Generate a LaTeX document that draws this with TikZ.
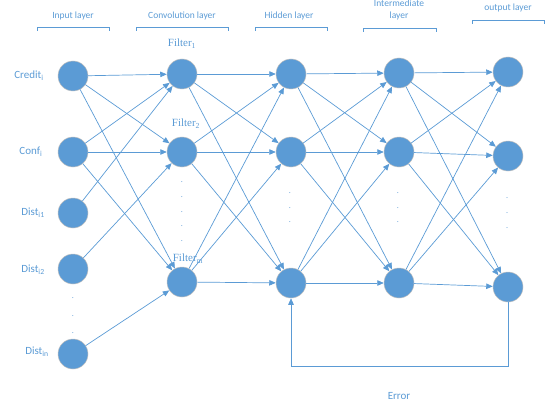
\documentclass[tikz,border=0pt]{standalone}
\usepackage{fontspec}
\setmainfont{Carlito}
\newfontfamily\serifface{Liberation Serif}
\usetikzlibrary{arrows.meta}
\definecolor{nblue}{RGB}{91,155,213}
\definecolor{tblue}{RGB}{91,155,213}
\tikzset{
  neuron/.style={circle,minimum size=30pt,inner sep=0pt,fill=nblue,draw=black!25,line width=0.5pt},
  conn/.style={draw=nblue,line width=0.7pt,-{Triangle[length=6.5pt,width=5.5pt]}},
  lbl/.style={text=tblue,font=\fontsize{11}{13}\selectfont,inner sep=0pt},
  hdr/.style={text=tblue,font=\fontsize{9.5}{11.5}\selectfont,inner sep=0pt,align=center},
  flt/.style={text=tblue,font=\serifface\fontsize{11}{13}\selectfont,inner sep=0pt},
  dotc/.style={text=tblue,font=\fontsize{8}{8}\selectfont,inner sep=0pt},
  brk/.style={draw=nblue,line width=0.7pt}
}
\begin{document}
\begin{tikzpicture}[x=1pt,y=-1pt]
\useasboundingbox (0,0) rectangle (553,409);
% headers
\node[hdr] (h1) at (73,16) {Input layer};
\node[hdr] (h2) at (182,16) {Convolution layer};
\node[hdr] (h3) at (289,16) {Hidden layer};
\node[hdr] (h4) at (399,10) {Intermediate\\layer};
\node[hdr] (h5) at (508,8) {output layer};
\draw[brk] (37,31) -- (37,27) -- (109,27) -- (109,31);
\draw[brk] (136,31) -- (136,27) -- (228,27) -- (228,31);
\draw[brk] (255,31) -- (255,27) -- (327,27) -- (327,31);
\draw[brk] (363,32) -- (363,28) -- (436,28) -- (436,32);
\draw[brk] (472,24) -- (472,20) -- (544,20) -- (544,24);
% input layer
\node[neuron] (i1) at (73,76) {};
\node[neuron] (i2) at (73,152) {};
\node[neuron] (i3) at (73,213) {};
\node[neuron] (i4) at (73,269) {};
\node[neuron] (i5) at (73,354) {};
\node[lbl] (l1) at (29,76) {Credit\textsubscript{i}};
\node[lbl] (l2) at (31,152) {Conf\textsubscript{i}};
\node[lbl] (l3) at (33,213) {Dist\textsubscript{i1}};
\node[lbl] (l4) at (33,270) {Dist\textsubscript{i2}};
\node[lbl] (l5) at (37,352) {Dist\textsubscript{in}};
\node[dotc] (d1a) at (73,298) {.};
\node[dotc] (d1b) at (73,316) {.};
\node[dotc] (d1c) at (73,333) {.};
% convolution layer
\node[neuron] (c1) at (182,74) {};
\node[neuron] (c2) at (182,152) {};
\node[neuron] (c3) at (182,282) {};
\node[flt] (f1) at (182,44) {Filter\textsubscript{1}};
\node[flt] (f2) at (186,124) {Filter\textsubscript{2}};
\node[flt] (f3) at (188,259) {Filter\textsubscript{m}};
\foreach \yy [count=\k] in {182,197,212,226,241} \node[dotc] (dc\k) at (182,\yy) {.};
% hidden
\node[neuron] (hn1) at (291,74) {};
\node[neuron] (hn2) at (291,152) {};
\node[neuron] (hn3) at (291,283) {};
\foreach \yy [count=\k] in {193,208,222} \node[dotc] (dh\k) at (290,\yy) {.};
% intermediate
\node[neuron] (m1) at (399,73) {};
\node[neuron] (m2) at (399,152) {};
\node[neuron] (m3) at (399,283) {};
\foreach \yy [count=\k] in {193,208,222} \node[dotc] (dm\k) at (398,\yy) {.};
% output
\node[neuron] (o1) at (508,72) {};
\node[neuron] (o2) at (508,156) {};
\node[neuron] (o3) at (508,287) {};
\foreach \yy [count=\k] in {198,213,228} \node[dotc] (do\k) at (507,\yy) {.};
% input -> conv
\foreach \a in {i1,i2} \foreach \b in {c1,c2,c3} \draw[conn] (\a) -- (\b);
\draw[conn] (i3) -- (c1);
\draw[conn] (i4) -- (c2);
\draw[conn] (i5) -- (c3);
% full connections
\foreach \a in {c1,c2,c3} \foreach \b in {hn1,hn2,hn3} \draw[conn] (\a) -- (\b);
\foreach \a in {hn1,hn2,hn3} \foreach \b in {m1,m2,m3} \draw[conn] (\a) -- (\b);
\foreach \a in {m1,m2,m3} \foreach \b in {o1,o2,o3} \draw[conn] (\a) -- (\b);
% feedback
\coordinate (fb1) at (508,366);
\coordinate (fb2) at (291,366);
\draw[conn] (o3.south) -- (fb1) -- (fb2) -- (hn3.south);
\node[lbl] (err) at (399,396) {Error};
\end{tikzpicture}
\end{document}
